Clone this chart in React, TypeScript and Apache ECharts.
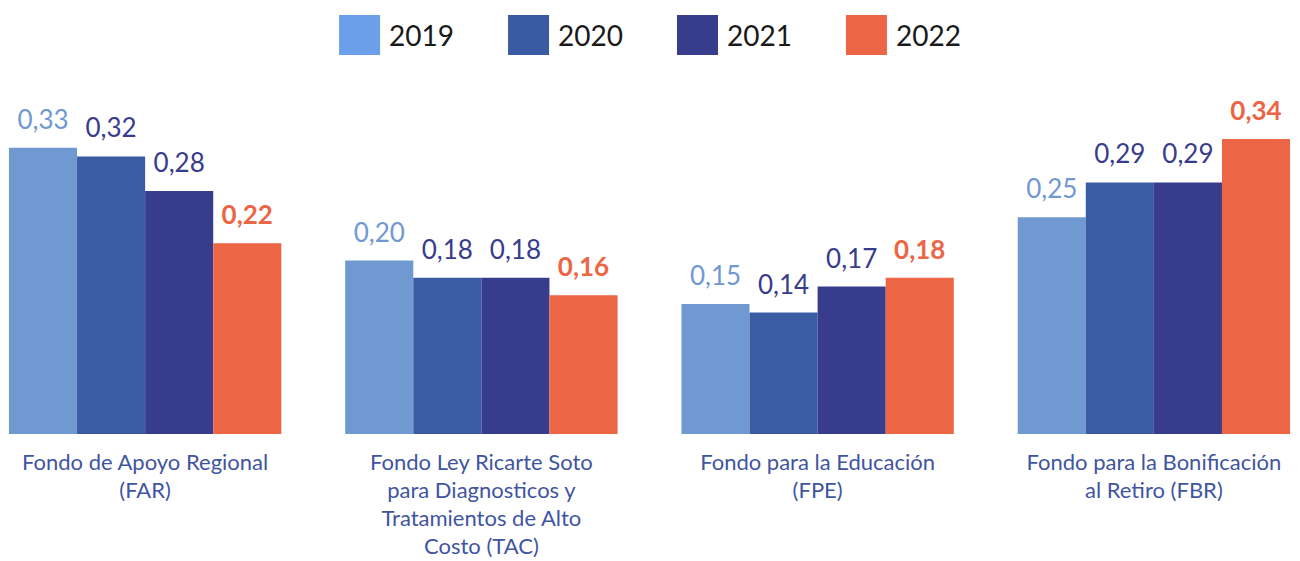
import React, { useEffect, useRef } from "react";
import * as echarts from "echarts";

const categories = [
  "Fondo de Apoyo Regional\n(FAR)",
  "Fondo Ley Ricarte Soto\npara Diagnosticos y\nTratamientos de Alto\nCosto (TAC)",
  "Fondo para la Educación\n(FPE)",
  "Fondo para la Bonificación\nal Retiro (FBR)",
];
const years = ["2019", "2020", "2021", "2022"];
const v2019 = [0.33, 0.2, 0.15, 0.25];
const v2020 = [0.32, 0.18, 0.14, 0.29];
const v2021 = [0.28, 0.18, 0.17, 0.29];
const v2022 = [0.22, 0.16, 0.18, 0.34];

const barColors = ["#7099D1", "#3B5BA5", "#383C8C", "#EC6645"];
const legendColors = ["#6C9FE9", "#3A5BA4", "#383C8C", "#EC6645"];
const labelColors = ["#7099D1", "#383C8C", "#383C8C", "#EC6645"];

export default function App() {
  const ref = useRef<HTMLDivElement>(null);
  useEffect(() => {
    document.body.style.margin = "0";
    const chart = echarts.init(ref.current!, null, { renderer: "svg" });
    const values = [v2019, v2020, v2021, v2022];
    chart.setOption({
      animation: false,
      legend: {
        top: 10,
        left: "center",
        itemWidth: 41,
        itemHeight: 40,
        itemGap: 54,
        icon: "rect",
        textStyle: { fontFamily: "Lato", fontSize: 28, color: "#1a1a1a", padding: [0, 0, 0, 4] },
        data: years.map((y, i) => ({ name: y, itemStyle: { color: legendColors[i] } })),
      },
      grid: { left: -23, right: -22, top: 87, bottom: 127, outerBoundsMode: "none", containLabel: false },
      xAxis: {
        type: "category",
        data: categories,
        axisLine: { show: false },
        axisTick: { show: false },
        axisLabel: {
          interval: 0,
          margin: 13,
          fontFamily: "Lato",
          fontSize: 22,
          lineHeight: 28,
          color: "#3F55A0",
        },
      },
      yAxis: { type: "value", min: 0, max: 0.4, show: false, splitLine: { show: false } },
      series: years.map((y, i) => ({
        name: y,
        type: "bar",
        data: values[i],
        barGap: "0%",
        barCategoryGap: "19%",
        itemStyle: { color: barColors[i] },
        label: {
          show: true,
          position: "top",
          distance: 16,
          fontFamily: "Lato",
          fontSize: 26,
          fontWeight: i === 3 ? "bold" : "normal",
          color: labelColors[i],
          formatter: (p: any) => p.value.toFixed(2).replace(".", ","),
        },
      })),
    });
    return () => chart.dispose();
  }, []);
  return <div ref={ref} style={{ width: 1300, height: 561 }} />;
}
